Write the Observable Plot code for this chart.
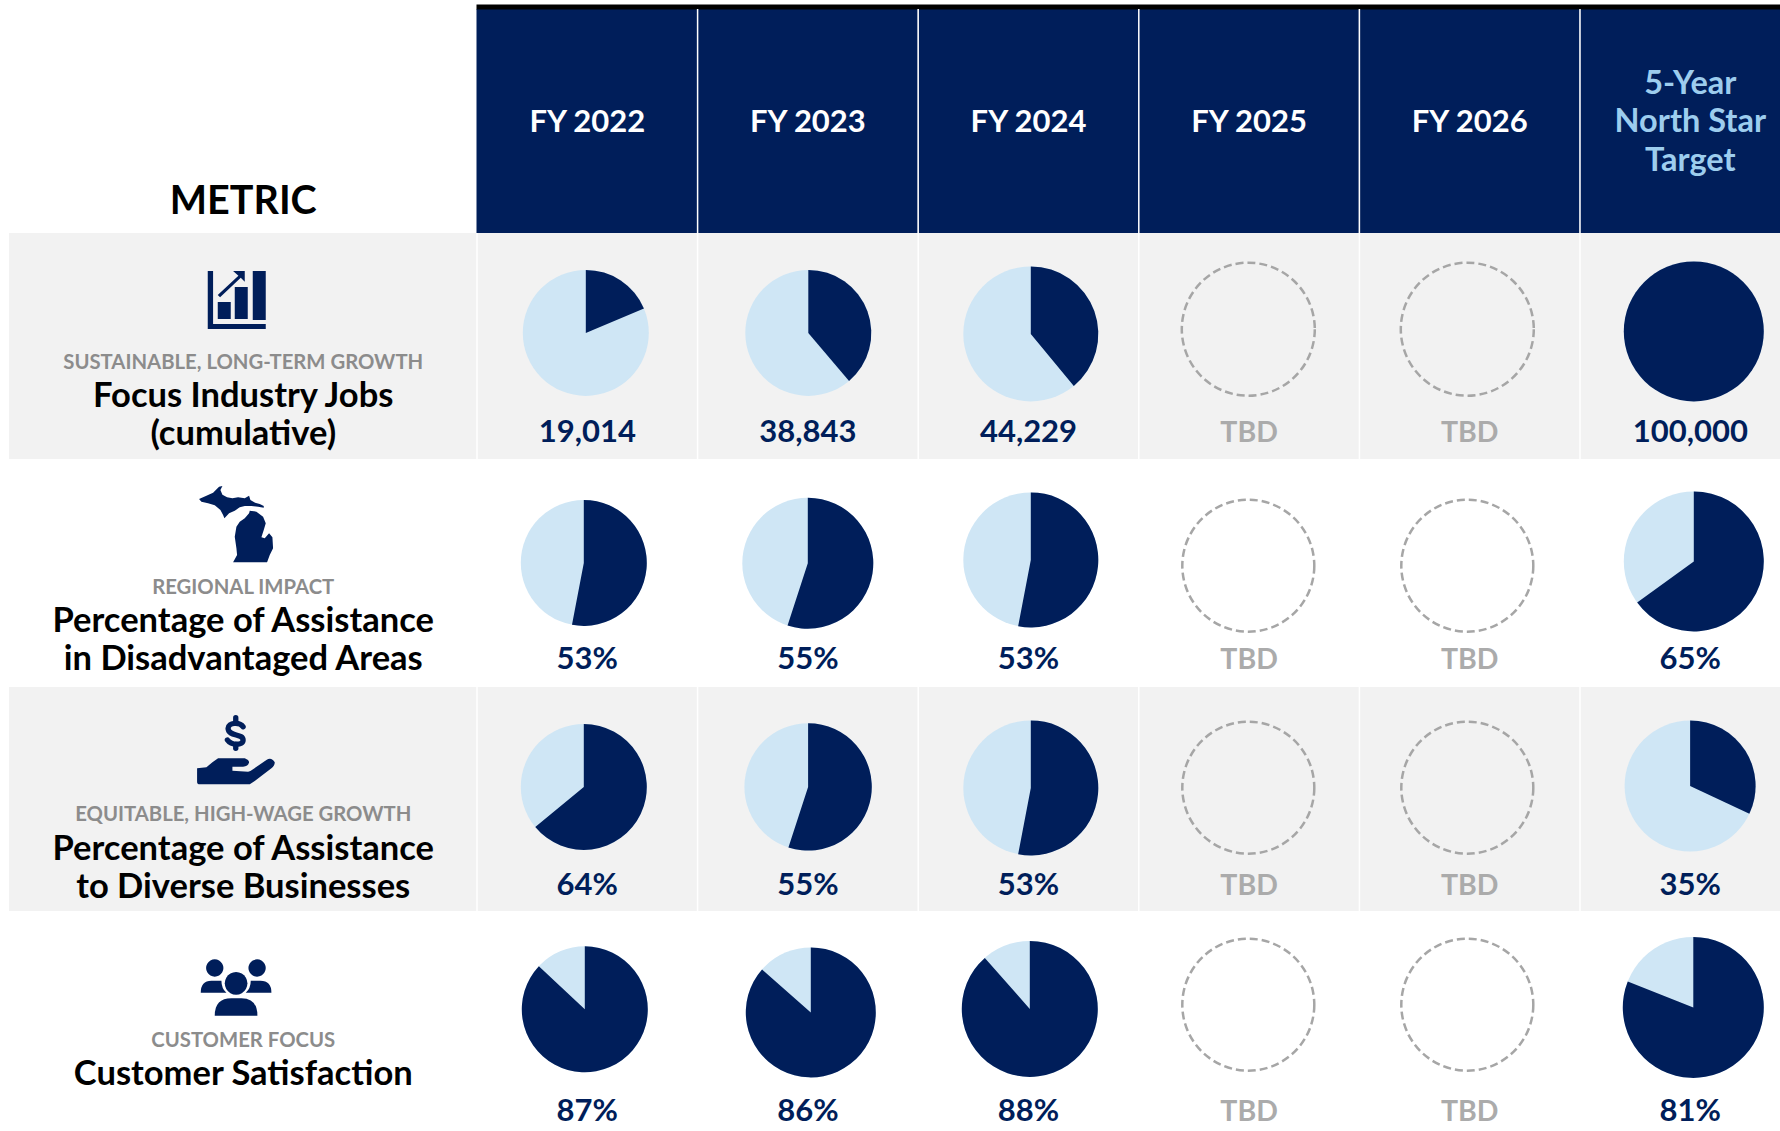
<!DOCTYPE html>
<html>
<head>
<meta charset="utf-8">
<script src="https://cdn.jsdelivr.net/npm/d3@7"></script>
<script src="https://cdn.jsdelivr.net/npm/@observablehq/plot@0.6"></script>
<style>
  html, body { margin: 0; padding: 0; background: #fff; overflow: hidden; }
</style>
</head>
<body>
<div id="chart"></div>
<script>
// ---- Chart values ----
const columnHeaders = ["FY 2022", "FY 2023", "FY 2024", "FY 2025", "FY 2026", "5-Year\nNorth Star\nTarget"];
const metricHeader = "METRIC";
const metricThemes = [
  "SUSTAINABLE, LONG-TERM GROWTH",
  "REGIONAL IMPACT",
  "EQUITABLE, HIGH-WAGE GROWTH",
  "CUSTOMER FOCUS"
];
const metricNames = [
  "Focus Industry Jobs\n(cumulative)",
  "Percentage of Assistance\nin Disadvantaged Areas",
  "Percentage of Assistance\nto Diverse Businesses",
  "Customer Satisfaction"
];
const valueLabels = [
  ["19,014", "38,843", "44,229", "TBD", "TBD", "100,000"],
  ["53%", "55%", "53%", "TBD", "TBD", "65%"],
  ["64%", "55%", "53%", "TBD", "TBD", "35%"],
  ["87%", "86%", "88%", "TBD", "TBD", "81%"]
];
// Dark share of each pie as drawn (null = dashed placeholder)
const pieShares = [
  [0.187, 0.388, 0.39, null, null, 1],
  [0.53, 0.55, 0.53, null, null, 0.65],
  [0.64, 0.55, 0.53, null, null, 0.32],
  [0.87, 0.865, 0.885, null, null, 0.81]
];

// ---- Layout (the source places its pies by hand) ----
const rowEdges = [233, 459, 687, 911, 1131];
const pieRadius = [
  [63, 63, 67.5, 66.5, 66.5, 70],
  [63, 65.5, 67.5, 66, 66, 70],
  [63, 63.7, 67.5, 66, 66, 65.5],
  [63, 65, 68, 66, 66, 70.5]
];
const pieDx = [
  [-1.3, 0.6, 2.5, -0.6, -2.2, 3.7],
  [-3.3, 0.1, 2.5, -0.6, -2.2, 3.7],
  [-3.3, 0.4, 2.5, -0.6, -2.2, 0],
  [-2.3, 3.1, 1.5, -0.6, -2.2, 3.2]
];
const pieFromRowTop = [
  [99.4, 99.4, 100.4, 95.7, 95.7, 97.9],
  [103.4, 103.7, 100.4, 106.2, 106.2, 101.9],
  [99.4, 99.4, 100.4, 100.2, 100.2, 98.4],
  [97.8, 100.9, 97.4, 93.2, 93.2, 95.9]
];
const rowTextNudge = [0, 1, -1, 1];
const rowLabelNudge = [0, -1, -1.5, 0];
const colWidth = 220.6;

const NAVY = "#001E5A", LIGHT = "#CFE6F5", SKY = "#9DCDEE", BAND = "#F2F2F2",
      THEME = "#8C8C8C", TBD = "#ABABAB", DASH = "#A6A6A6";

// Tables for the marks
const rowHeight = r => rowEdges[r + 1] - rowEdges[r];
const rows = metricNames.map((name, row) => ({
  row, name, theme: metricThemes[row],
  labelY: row + rowLabelNudge[row] / rowHeight(row)
}));
const columns = columnHeaders.map((label, col) => ({col, label, target: col === 5}));
const cells = valueLabels.flatMap((labels, row) => labels.map((label, col) => ({
  row, col, label,
  share: pieShares[row][col],
  r: pieRadius[row][col],
  px: col + 0.5 + (pieDx[row][col] - 0.2) / colWidth,
  py: row + pieFromRowTop[row][col] / rowHeight(row),
  textY: row + rowTextNudge[row] / rowHeight(row)
})));
const filled = cells.filter(d => d.share !== null);
const pending = cells.filter(d => d.share === null);

// Turns each dot into the pie slice for its share
function sliceRender(index, scales, values, dims, ctx, next) {
  const g = next(index, scales, values, dims, ctx);
  [...g.querySelectorAll("circle")].forEach((c, k) => {
    const d = filled[index[k]];
    const p = document.createElementNS("http://www.w3.org/2000/svg", "path");
    p.setAttribute("transform", `translate(${c.getAttribute("cx")},${c.getAttribute("cy")})`);
    p.setAttribute("d", d3.arc()({innerRadius: 0, outerRadius: +c.getAttribute("r"), startAngle: 0, endAngle: d.share * 2 * Math.PI}));
    c.replaceWith(p);
  });
  return g;
}

// Metric icons, traced in a small local grid (3 units per pixel)
const iconPaths = [
  {row: 0, top: 27, fill: [
    "M54,33H70V192H228V207H54Z",
    "M84,126H123V177H84Z", "M135,81H174V177H135Z", "M189,33H228V180H189Z",
    "M130,33H165V65L153,53L91,112L84,105L146,47Z"
  ]},
  {row: 1, top: 21, fill: [
    "M28,57L50,47L70,38L88,20L98,18L92,30L98,44L112,52L128,55L145,52L165,55L178,47L182,60L196,68L210,72L222,78L222,83L205,80L185,78L165,78L150,82L135,92L118,100L104,115L100,105L92,90L75,76L55,70L35,65Z",
    "M180,92L200,95L220,110L228,130L222,150L215,172L225,175L238,160L248,172L250,205L240,225L232,247L130,247L142,225L140,205L135,170L140,140L150,125L165,115L178,100Z"
  ]},
  {row: 2, top: 18, fill: [
    "M22,190L50,187L68,172L85,160L165,160Q178,165 178,172Q175,185 160,185L128,185L128,197L175,200L182,198L230,165Q245,155 255,172Q255,183 245,190L195,228L180,238L30,238Q22,238 22,230Z"
  ], stroke: [
    "M160,65C150,50 115,52 115,70C115,95 160,85 160,105C160,122 125,122 113,105",
    "M138,38V55", "M138,118V130"
  ]},
  {row: 3, top: 39, fill: [
    "M75,28a26,26 0 1,0 0.01,0Z", "M202,28a26,26 0 1,0 0.01,0Z", "M139,66a34,34 0 1,0 0.01,0Z",
    "M33,128Q33,92 65,92L95,92Q95,115 110,128Z",
    "M245,128Q245,92 212,92L183,92Q183,115 168,128Z",
    "M75,197Q75,145 125,145L155,145Q203,145 203,197Z"
  ]}
];
function iconMark(index, {x, y}) {
  const g = d3.create("svg:g").attr("aria-label", "metric icons");
  for (const icon of iconPaths) {
    const t = g.append("g").attr("transform", `translate(${x(-0.5) - 53},${y(icon.row) + icon.top}) scale(${1 / 3})`);
    for (const d of icon.fill) t.append("path").attr("d", d).attr("fill", NAVY);
    for (const d of icon.stroke || []) t.append("path").attr("d", d).attr("fill", "none")
      .attr("stroke", NAVY).attr("stroke-width", 16).attr("stroke-linecap", "round");
  }
  return g.node();
}

const font = "Lato, 'Open Sans', sans-serif";

const chart = Plot.plot({
  width: 1780,
  height: 1131,
  margin: 0,
  style: {fontFamily: font, background: "#fff"},
  x: {type: "linear", axis: null, domain: [-1, 0, 6], range: [9, 476.5, 476.5 + 6 * colWidth]},
  y: {type: "linear", axis: null, domain: [-1, 0, 1, 2, 3, 4], range: [9, ...rowEdges]},
  r: {type: "identity"},
  marks: [
    // Alternating row bands
    Plot.rect(rows.filter(d => d.row % 2 === 0), {x1: -1, x2: 6, y1: "row", y2: d => d.row + 1, fill: BAND}),
    // Header
    Plot.rect(columns, {x1: "col", x2: d => d.col + 1, y1: -1, y2: 0, fill: NAVY}),
    Plot.ruleY([-1], {x1: 0, x2: 6, dy: -2.5, stroke: "#000", strokeWidth: 5}),
    Plot.ruleX([1, 2, 3, 4, 5], {y1: -1, y2: 4, stroke: "#fff", strokeWidth: 1.5}),
    Plot.ruleX([0], {y1: 0, y2: 4, stroke: "#fff", strokeWidth: 1.5}),
    Plot.text(columns, {
      x: d => d.col + 0.5, y: -1, dy: 110.5, text: "label",
      fill: d => d.target ? SKY : "#fff",
      fontSize: d => d.target ? 32.5 : 31, fontWeight: 700, lineHeight: 1.18, lineAnchor: "middle"
    }),
    Plot.text([metricHeader], {x: -0.5, y: 0, dy: -32, text: d => d, fill: "#000", fontSize: 39.5, fontWeight: 700, lineAnchor: "middle"}),
    // Metric labels
    Plot.text(rows, {x: -0.5, y: "labelY", dy: 128.5, text: "theme", fill: THEME, fontSize: 20.3, fontWeight: 700, lineAnchor: "middle"}),
    Plot.text(rows, {x: -0.5, y: "labelY", dy: 146.5, text: "name", fill: "#000", fontSize: 34.5, fontWeight: 700, lineHeight: 1.11, lineAnchor: "top"}),
    iconMark,
    // Pies
    Plot.dot(filled, {x: "px", y: "py", r: "r", fill: LIGHT, sort: null}),
    Plot.dot(filled, {x: "px", y: "py", r: "r", fill: NAVY, sort: null, render: sliceRender}),
    Plot.dot(pending, {x: "px", y: "py", r: "r", fill: "none", stroke: DASH, strokeWidth: 2.5, strokeDasharray: "8 4", sort: null}),
    // Values
    Plot.text(cells, {
      x: d => d.col + 0.5, y: "textY", dy: 199, text: "label",
      fill: d => d.label === "TBD" ? TBD : NAVY,
      fontSize: d => d.label === "TBD" ? 28.5 : 31, fontWeight: 700, lineAnchor: "middle"
    })
  ]
});
document.getElementById("chart").append(chart);
</script>
</body>
</html>
